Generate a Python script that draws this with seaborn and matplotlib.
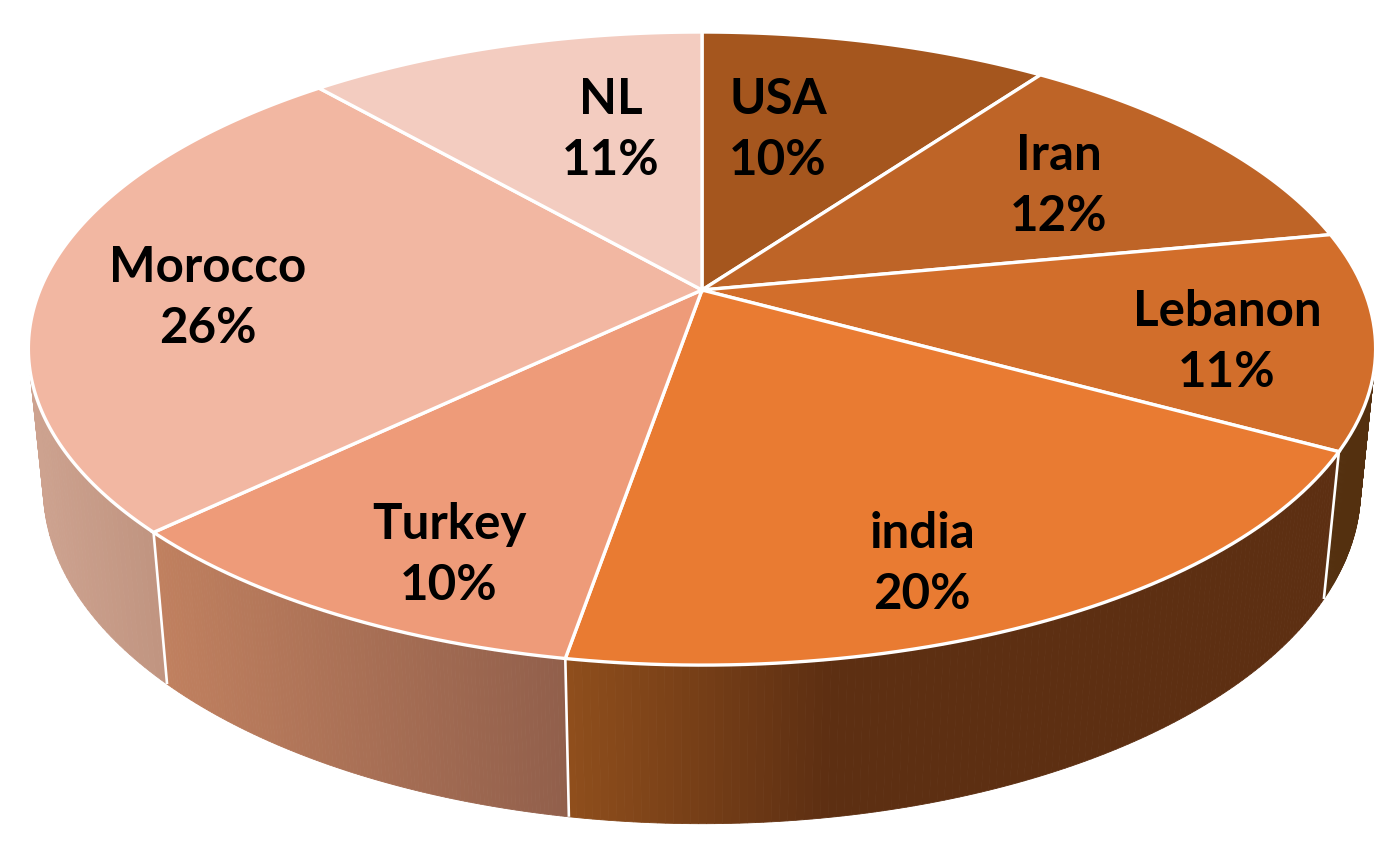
import numpy as np
import matplotlib
matplotlib.use("Agg")
import matplotlib.pyplot as plt
from matplotlib.colors import to_rgb
from matplotlib.path import Path
from matplotlib.transforms import Affine2D, Transform
import seaborn as sns

countries = ["USA", "Iran", "Lebanon", "india", "Turkey", "Morocco", "NL"]
shares = [10.0, 12.0, 11.0, 19.7, 10.15, 25.7, 11.45]
top_colors = ["#A5561E", "#BE6427", "#D26E2B", "#E97B32", "#EE9B79", "#F2B7A2", "#F3CCC0"]
wall_left = ["#54300F", "#54300F", "#54300F", "#8F4E1C", "#C0805F", "#CDA28F", "#CDA28F"]
wall_right = ["#54300F", "#54300F", "#54300F", "#5D2F12", "#915F4B", "#C09480", "#C09480"]

W, H = 1389, 843
CX, CY = 702.0, 290.0          # where the slices meet
RX, RY = 662.0, 305.7          # disc radii
TILT = 0.185                   # perspective along the disc depth
DROP, DZ = 141.0, 0.022        # thickness of the disc


def project(u, v, z=0.0):
    w = 1 + TILT * np.asarray(v) + DZ * z
    return CX + RX * np.asarray(u) / w, CY + (-RY * np.asarray(v) + DROP * z) / w


class DiscTransform(Transform):
    input_dims = output_dims = 2

    def transform_non_affine(self, values):
        values = np.asarray(values, float)
        return np.column_stack(project(values[:, 0], values[:, 1]))

    def transform_path_non_affine(self, path):
        fine = path.transformed(Affine2D().scale(3000))
        poly = fine.to_polygons(closed_only=False)[0] / 3000
        return Path(self.transform_non_affine(poly), closed=True)


sns.set_theme(style="white")
plt.rcParams["font.family"] = ["Lato", "DejaVu Sans"]

fig = plt.figure(figsize=(W / 100, H / 100), dpi=100, facecolor="white")
ax = fig.add_axes([0, 0, 1, 1])

wedges, _ = ax.pie(
    shares,
    colors=sns.color_palette(top_colors),
    startangle=90,
    counterclock=False,
    frame=False,
    wedgeprops={"edgecolor": "white", "linewidth": 2.4, "zorder": 5},
)
disc = DiscTransform() + ax.transData
for wedge in wedges:
    wedge.set_transform(disc)
    wedge.set_clip_on(False)

ax.set_aspect("auto")
ax.set_xlim(0, W)
ax.set_ylim(H, 0)
ax.set_axis_off()

# Side wall of every slice, shaded left to right, built from the same shares
GRAD_SPAN = {3: (567, 830), 4: (157, 567), 5: (33, 157)}
edges = 90 - 3.6 * np.concatenate([[0], np.cumsum(shares)])
for i, (start, stop) in enumerate(zip(edges[:-1], edges[1:])):
    theta = np.radians(np.linspace(start, stop, 121))
    u, v = np.cos(theta), np.sin(theta)
    xt, yt = project(u, v, 0)
    xb, yb = project(u, v, 1)
    c0, c1 = np.array(to_rgb(wall_left[i])), np.array(to_rgb(wall_right[i]))
    lo, hi = GRAD_SPAN.get(i, (0, W))
    for j in range(120):
        if v[j] > 0.15 and v[j + 1] > 0.15:
            continue
        t = np.clip((0.5 * (xt[j] + xt[j + 1]) - lo) / (hi - lo), 0, 1)
        col = c0 + (c1 - c0) * t
        ax.fill([xt[j], xt[j + 1], xb[j + 1], xb[j]],
                [yt[j], yt[j + 1], yb[j + 1], yb[j]],
                color=col, lw=0.6, zorder=1, clip_on=False)

for angle in np.radians(edges[3:6]):
    x0, y0 = project(np.cos(angle), np.sin(angle), 0)
    x1, y1 = project(np.cos(angle), np.sin(angle), 1)
    ax.plot([x0, x1], [y0, y1], color="white", lw=1.9, zorder=3, solid_capstyle="butt")

# Labels
label_anchor = {
    "USA": (778, 130), "Iran": (1059, 186), "Lebanon": (1227, 342), "india": (922, 564),
    "Turkey": (449, 555), "Morocco": (208, 298), "NL": (611, 130),
}
for name, share in zip(countries, shares):
    x, y = label_anchor[name]
    ax.text(x, y, f"{name}\n{share:.0f}%", ha="center", va="center", ma="center",
            fontsize=35.5, fontweight="bold", color="black", linespacing=1.45, zorder=6)

fig.savefig("out.png", dpi=100, facecolor="white")
